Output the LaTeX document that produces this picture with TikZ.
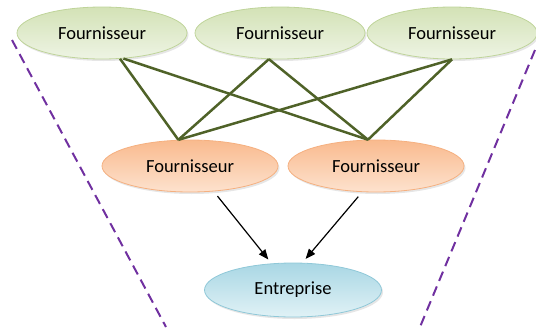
\documentclass[tikz,border=0pt]{standalone}
\usepackage{fontspec}
\setmainfont{Carlito}
\usepackage{xcolor}
\usetikzlibrary{shapes.geometric,arrows.meta,shadows}

\definecolor{vertfond}{HTML}{D3E2B6}
\definecolor{vertclair}{HTML}{EEF4E4}
\definecolor{vertbord}{HTML}{BFD49A}
\definecolor{orangefond}{HTML}{F9BA8E}
\definecolor{orangeclair}{HTML}{FDE2CE}
\definecolor{orangebord}{HTML}{F5B080}
\definecolor{bleufond}{HTML}{A9D7E4}
\definecolor{bleuclair}{HTML}{E0F2F6}
\definecolor{bleubord}{HTML}{8FC8D8}
\definecolor{lien}{HTML}{4F6228}
\definecolor{violet}{HTML}{7030A0}

\begin{document}
\begin{tikzpicture}[
        x=1pt, y=-1pt,
        acteur/.style={ellipse, draw, line width=0.8pt, minimum width=170pt, minimum height=52pt,
            inner sep=0pt, font=\fontsize{18.5}{22}\selectfont,
            drop shadow={opacity=0.2, shadow xshift=1.5pt, shadow yshift=-2pt}},
        fournA/.style={acteur, draw=vertbord, top color=vertfond, bottom color=vertclair},
        fournB/.style={acteur, draw=orangebord, top color=orangefond, bottom color=orangeclair, minimum width=176pt},
        entreprise/.style={acteur, draw=bleubord, top color=bleufond, bottom color=bleuclair, minimum width=177pt, minimum height=54pt},
        lien/.style={draw=lien, line width=2.5pt},
        fleche/.style={-{Triangle[length=10pt, width=8pt]}, line width=1.2pt},
        frontiere/.style={draw=violet, line width=2pt, dash pattern=on 10pt off 6pt}
    ]
    \useasboundingbox (0,0) rectangle (536,327);

    % ---------- fournisseurs de rang 2 ----------
    \node[fournA] (F1) at (102, 33) {Fournisseur};
    \node[fournA] (F2) at (280, 33) {Fournisseur};
    \node[fournA] (F3) at (452, 33) {Fournisseur};

    % ---------- fournisseurs de rang 1 ----------
    \node[fournB] (G1) at (190, 166) {Fournisseur};
    \node[fournB] (G2) at (376, 166) {Fournisseur};

    % ---------- entreprise ----------
    \node[entreprise] (E) at (293, 290) {Entreprise};

    % ---------- liens ----------
    \draw[lien] (F1.-55) -- (G1.114);
    \draw[lien] (F1.-50) -- (G2.107);
    \draw[lien] (F2.-113) -- (G1.114);
    \draw[lien] (F2.-113) -- (G2.107);
    \draw[lien] (F3.-90) -- (G1.114);
    \draw[lien] (F3.-90) -- (G2.107);

    % ---------- flux ----------
    \draw[fleche, shorten <=6pt, shorten >=5pt] (G1.-47) -- (E.129);
    \draw[fleche, shorten <=6pt, shorten >=5pt] (G2.-118) -- (E.71);

    % ---------- frontieres ----------
    \coordinate (A1) at (12, 40);
    \coordinate (A2) at (166, 327);
    \coordinate (B1) at (535, 50);
    \coordinate (B2) at (420, 327);
    \draw[frontiere] (A1) -- (A2);
    \draw[frontiere] (B1) -- (B2);

\end{tikzpicture}
\end{document}
